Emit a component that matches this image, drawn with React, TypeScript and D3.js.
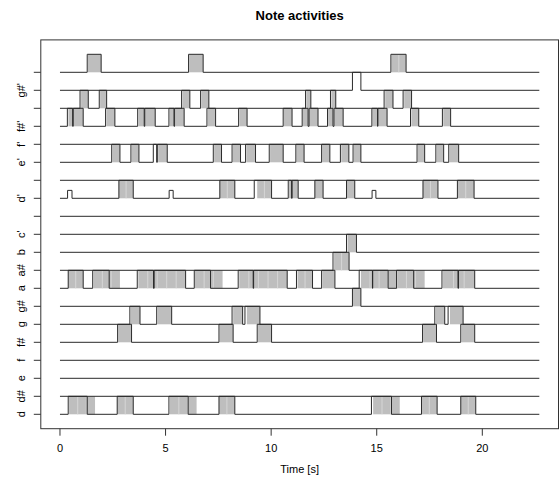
import React, { useEffect, useRef } from 'react';
import * as d3 from 'd3';

// note rows, bottom to top
const noteNames = ['d', 'd#', 'e', 'f', 'f#', 'g', 'g#', 'a', 'a#', 'b', "c'", "c#'", "d'", "d#'", "e'", "f'", "f#'", "g'", "g#'", "a'"];
// R drops labels that would overlap
const noteLabels = ['d', 'd#', 'e', 'f', 'f#', 'g', 'g#', 'a', 'a#', 'b', "c'", '', "d'", '', "e'", "f'", "f#'", '', "g#'", ''];
const timeTicks = [0, 5, 10, 15, 20];
const timeRange = [0, 22.7];

// expected activity: [start, end] in seconds, optional 3rd value = level (1 = full)
const onD = [[0.39, 1.29], [2.71, 3.47], [5.16, 6.07], [7.53, 8.28], [14.75, 15.7], [17.12, 17.86], [18.98, 19.69]];
const obsD = [[0.43, 1.66], [2.71, 3.47], [5.21, 6.47], [7.53, 8.28], [14.83, 16.09], [17.12, 17.86], [18.98, 19.69]];

const onFs = [[2.73, 3.39], [7.53, 8.2], [9.34, 10.02], [17.17, 17.83], [18.98, 19.64]];
const obsFs = [[2.76, 3.39], [7.56, 8.2], [9.38, 10.02], [17.2, 17.83], [19.02, 19.64]];

const onG = [[3.31, 3.79], [4.58, 5.29], [8.15, 8.65], [8.76, 9.47], [17.75, 18.22], [18.38, 19.09]];
const obsG = [[3.36, 3.79], [4.62, 5.29], [8.2, 8.65], [8.85, 9.47], [17.8, 18.22], [18.47, 19.09]];

const onGs = [[13.85, 14.25]];
const obsGs = [[13.87, 14.25]];

const onA = [
  [0.39, 1.1], [1.55, 2.33], [3.66, 4.43], [4.46, 5.95], [6.36, 7.13], [8.44, 9.15], [9.17, 10.76],
  [11.2, 11.96], [12.39, 13.02], [14.17, 14.8], [14.81, 15.54], [15.94, 16.75], [18.09, 18.85], [18.87, 19.64],
];
const obsA = [
  [0.39, 1.1], [1.59, 2.84], [3.71, 5.95], [6.39, 7.7], [8.49, 10.76], [11.25, 11.96],
  [12.43, 13.01], [14.25, 17.27], [18.14, 19.64],
];

const onAs = [[12.93, 13.69]];
const obsAs = [[12.98, 13.69]];

const onB = [[13.57, 14.04]];
const obsB = [[13.62, 14.04]];

const onD2 = [
  [0.36, 0.57, 0.44], [2.79, 3.47], [5.17, 5.36, 0.44], [7.57, 8.28], [9.2, 10.02], [10.81, 10.97], [10.99, 11.28],
  [12.07, 12.46], [13.57, 13.96], [14.78, 14.96, 0.44], [17.19, 17.9], [18.82, 19.61],
];
const obsD2 = [[2.79, 3.47], [7.57, 8.28], [9.34, 10.02], [10.85, 11.28], [12.07, 12.46], [13.57, 13.96], [17.19, 17.9], [18.82, 19.61]];

const onE2 = [
  [2.45, 2.84], [3.36, 3.74], [4.42, 4.58], [4.61, 5.08], [7.26, 7.65], [8.15, 8.55], [8.79, 9.26], [9.91, 10.57],
  [11.17, 11.56], [12.39, 12.78], [13.28, 13.68], [13.88, 14.25], [16.91, 17.27], [17.8, 18.17], [18.41, 18.88],
];
const obsE2 = [
  [2.49, 2.84], [3.4, 3.74], [4.65, 5.08], [7.3, 7.65], [8.19, 8.55], [8.83, 9.26], [9.95, 10.57],
  [11.2, 11.56], [12.42, 12.78], [13.32, 13.68], [13.92, 14.25], [16.95, 17.27], [17.84, 18.17], [18.45, 18.88],
];

const onFs2 = [
  [0.35, 0.6], [0.63, 1.1], [2.16, 2.6], [3.68, 3.99], [4.02, 4.51], [5.16, 5.4], [5.43, 5.88], [6.96, 7.37],
  [8.46, 8.86], [10.57, 10.99], [11.47, 11.75], [11.8, 12.22], [12.67, 12.93], [12.98, 13.41], [14.77, 15.04],
  [15.06, 15.49], [16.6, 16.99], [18.11, 18.5],
];
const obsFs2 = [
  [0.4, 0.6], [0.66, 1.1], [2.2, 2.6], [3.72, 3.99], [4.05, 4.51], [5.2, 5.4], [5.46, 5.88], [7.0, 7.37],
  [8.5, 8.86], [10.6, 10.99], [11.5, 11.75], [11.83, 12.22], [12.7, 12.93], [13.01, 13.41], [14.8, 15.04],
  [15.09, 15.49], [16.64, 16.99], [18.15, 18.5],
];

const onG2 = [[0.95, 1.34], [1.86, 2.21], [5.76, 6.15], [6.66, 7.05], [11.63, 11.88], [12.81, 13.06], [15.35, 15.77], [16.25, 16.65]];
const obsG2 = [[1.0, 1.34], [1.9, 2.21], [5.8, 6.15], [6.7, 7.05], [11.67, 11.88], [12.85, 13.06], [15.4, 15.77], [16.3, 16.65]];

const onGs2 = [[13.85, 14.25]];
const obsGs2 = [];

const onA2 = [[1.29, 1.95], [6.09, 6.78], [15.67, 16.39]];
const obsA2 = [[1.32, 1.95], [6.12, 6.78], [15.7, 16.39]];

const rows = [
  { on: onD, obs: obsD },
  { on: [], obs: [] },
  { on: [], obs: [] },
  { on: [], obs: [] },
  { on: onFs, obs: obsFs },
  { on: onG, obs: obsG },
  { on: onGs, obs: obsGs },
  { on: onA, obs: obsA },
  { on: onAs, obs: obsAs },
  { on: onB, obs: obsB },
  { on: [], obs: [] },
  { on: [], obs: [] },
  { on: onD2, obs: obsD2 },
  { on: [], obs: [] },
  { on: onE2, obs: obsE2 },
  { on: [], obs: [] },
  { on: onFs2, obs: obsFs2 },
  { on: onG2, obs: obsG2 },
  { on: onGs2, obs: obsGs2 },
  { on: onA2, obs: obsA2 },
];

const App = () => {
  const ref = useRef<SVGSVGElement>(null);

  useEffect(() => {
    const width = 559;
    const height = 479;
    const font = '"Liberation Sans", Arial, Helvetica, sans-serif';

    const svg = d3.select(ref.current);
    svg.selectAll('*').remove();

    // R style 4% padding around data range
    const padX = (timeRange[1] - timeRange[0]) * 0.04;
    const x = d3.scaleLinear()
      .domain([timeRange[0] - padX, timeRange[1] + padX])
      .range([40.8, 558.5]);
    const padY = noteNames.length * 0.04;
    const y = d3.scaleLinear()
      .domain([1 - padY, noteNames.length + 1 + padY])
      .range([428.7, 39.9]);

    const win = 0.45; // analysis window width, for the seams inside grey blocks

    // observed (grey) blocks
    const g = svg.append('g');
    rows.forEach((row, i) => {
      const base = i + 1;
      row.obs.forEach(([s, e]) => {
        g.append('rect')
          .attr('x', x(s))
          .attr('y', y(base + 1))
          .attr('width', x(e) - x(s))
          .attr('height', y(base) - y(base + 1))
          .attr('fill', '#bebebe');
        const n = Math.max(1, Math.round((e - s) / win));
        for (let k = 1; k < n; k++) {
          const xs = x(s + ((e - s) * k) / n);
          g.append('line')
            .attr('x1', xs).attr('x2', xs)
            .attr('y1', y(base + 1)).attr('y2', y(base))
            .attr('stroke', '#d6d6d6')
            .attr('stroke-width', 1);
        }
      });
    });

    // expected (black step lines)
    const line = d3.line<[number, number]>()
      .x((d) => x(d[0]))
      .y((d) => y(d[1]));
    rows.forEach((row, i) => {
      const base = i + 1;
      const pts: [number, number][] = [[timeRange[0], base]];
      row.on.forEach((iv) => {
        const lvl = iv.length > 2 ? iv[2] : 1;
        pts.push([iv[0], base], [iv[0], base + lvl], [iv[1], base + lvl], [iv[1], base]);
      });
      pts.push([timeRange[1], base]);
      svg.append('path')
        .attr('d', line(pts))
        .attr('fill', 'none')
        .attr('stroke', '#2a2a2a')
        .attr('stroke-width', 1);
    });

    // box
    svg.append('rect')
      .attr('x', x.range()[0])
      .attr('y', y.range()[1])
      .attr('width', x.range()[1] - x.range()[0])
      .attr('height', y.range()[0] - y.range()[1])
      .attr('fill', 'none')
      .attr('stroke', '#333')
      .attr('stroke-width', 1);

    // x axis
    const bottom = y.range()[0];
    timeTicks.forEach((t) => {
      svg.append('line')
        .attr('x1', x(t)).attr('x2', x(t))
        .attr('y1', bottom).attr('y2', bottom + 7)
        .attr('stroke', '#333');
      svg.append('text')
        .attr('x', x(t))
        .attr('y', bottom + 23)
        .attr('text-anchor', 'middle')
        .attr('font-family', font)
        .attr('font-size', 11)
        .text(t);
    });
    svg.append('text')
      .attr('x', (x.range()[0] + x.range()[1]) / 2)
      .attr('y', 473)
      .attr('text-anchor', 'middle')
      .attr('font-family', font)
      .attr('font-size', 11)
      .text('Time [s]');

    // y axis
    const left = x.range()[0];
    noteNames.forEach((n, i) => {
      const yy = y(i + 1);
      svg.append('line')
        .attr('x1', left - 7).attr('x2', left)
        .attr('y1', yy).attr('y2', yy)
        .attr('stroke', '#333');
      if (noteLabels[i]) {
        svg.append('text')
          .attr('transform', `translate(24.5,${yy}) rotate(-90)`)
          .attr('text-anchor', 'middle')
          .attr('font-family', font)
          .attr('font-size', 11)
          .text(noteLabels[i]);
      }
    });

    // title
    svg.append('text')
      .attr('x', (x.range()[0] + x.range()[1]) / 2)
      .attr('y', 19.5)
      .attr('text-anchor', 'middle')
      .attr('font-family', font)
      .attr('font-size', 13)
      .attr('font-weight', 'bold')
      .text('Note activities');

    svg.attr('width', width).attr('height', height);
  }, []);

  return (
    <svg
      ref={ref}
      style={{ position: 'absolute', left: 0, top: 0, background: '#fff' }}
    />
  );
};

export default App;
